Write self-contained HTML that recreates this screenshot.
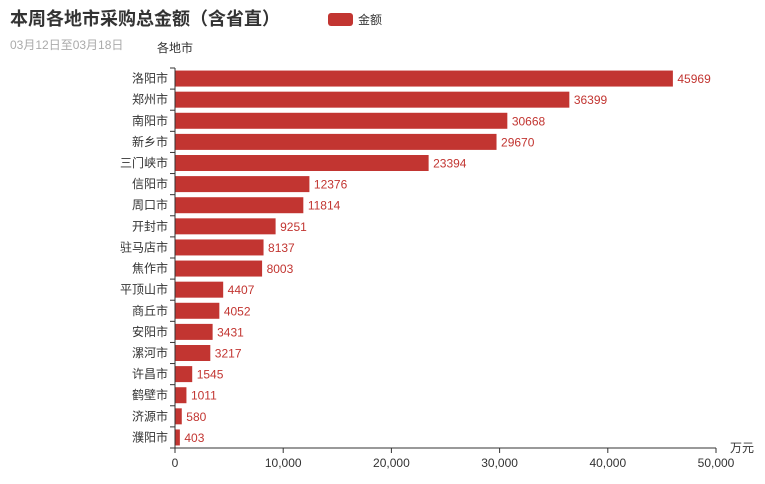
<!DOCTYPE html>
<html><head><meta charset="utf-8"><style>
body{margin:0;background:#fff;}
text{font-family:"Liberation Sans","Noto Sans CJK SC",sans-serif;}
</style></head><body>
<svg width="765" height="479" xmlns="http://www.w3.org/2000/svg">
<text x="10" y="25" font-size="18" font-weight="bold" fill="#333">本周各地市采购总金额（含省直）</text>
<text x="10" y="49" font-size="12" fill="#aaa">03月12日至03月18日</text>
<rect x="328" y="13" width="25" height="13" rx="3" fill="#c23531"/>
<text x="358" y="24" font-size="12" fill="#333">金额</text>
<text x="157" y="52" font-size="12" fill="#333">各地市</text>
<g id="bars"></g>
<line x1="175" y1="68" x2="175" y2="448" stroke="#333"/>
<line x1="175" y1="448" x2="716" y2="448" stroke="#333"/>
<text x="730" y="452" font-size="12" fill="#333">万元</text>
<g font-size="12" fill="#333" text-anchor="middle">
<line x1="175" y1="448" x2="175" y2="453" stroke="#333"/><text x="175" y="467">0</text>
<line x1="283.2" y1="448" x2="283.2" y2="453" stroke="#333"/><text x="283.2" y="467">10,000</text>
<line x1="391.4" y1="448" x2="391.4" y2="453" stroke="#333"/><text x="391.4" y="467">20,000</text>
<line x1="499.6" y1="448" x2="499.6" y2="453" stroke="#333"/><text x="499.6" y="467">30,000</text>
<line x1="607.8" y1="448" x2="607.8" y2="453" stroke="#333"/><text x="607.8" y="467">40,000</text>
<line x1="716" y1="448" x2="716" y2="453" stroke="#333"/><text x="716" y="467">50,000</text>
</g>
</svg>
<script>
var d=[["洛阳市",45969],["郑州市",36399],["南阳市",30668],["新乡市",29670],["三门峡市",23394],["信阳市",12376],["周口市",11814],["开封市",9251],["驻马店市",8137],["焦作市",8003],["平顶山市",4407],["商丘市",4052],["安阳市",3431],["漯河市",3217],["许昌市",1545],["鹤壁市",1011],["济源市",580],["濮阳市",403]];
var g=document.getElementById("bars"),s="",bh=380/18;
d.forEach(function(r,i){var y0=68+i*bh,c=y0+bh/2,w=r[1]*541/50000;
s+='<line x1="170" y1="'+y0+'" x2="175" y2="'+y0+'" stroke="#333"/>';
s+='<rect x="175.5" y="'+(c-8)+'" width="'+w+'" height="16" fill="#c23531"/>';
s+='<text x="168" y="'+(c+4)+'" font-size="12" fill="#333" text-anchor="end">'+r[0]+'</text>';
s+='<text x="'+(180+w)+'" y="'+(c+4.5)+'" font-size="12" fill="#c23531">'+r[1]+'</text>';});
s+='<line x1="170" y1="448" x2="175" y2="448" stroke="#333"/>';
g.innerHTML=s;
</script>
</body></html>
